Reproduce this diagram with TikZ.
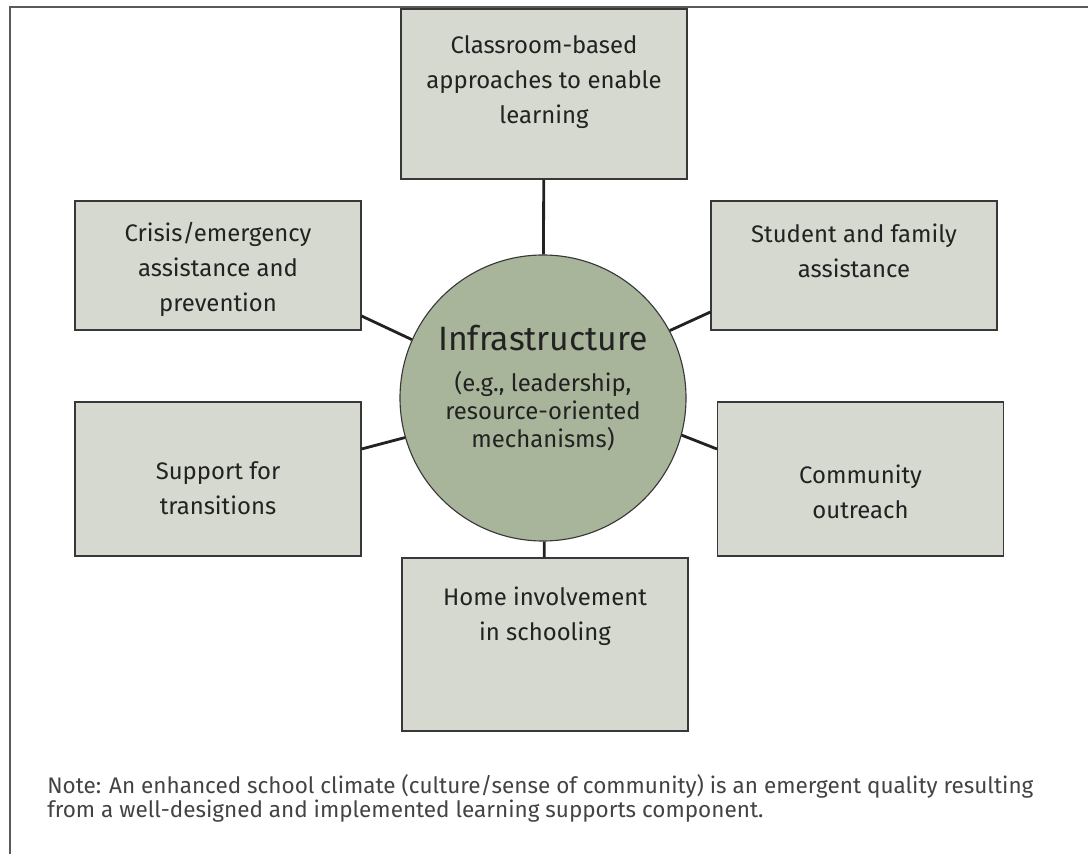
\documentclass[tikz,border=0pt]{standalone}
\usepackage{fontspec}
\setmainfont{Fira Sans}
\usepackage{tikz}
\usetikzlibrary{positioning}
\definecolor{boxfill}{HTML}{D6D9CF}
\definecolor{hubfill}{HTML}{A9B59B}
\definecolor{ink}{HTML}{222222}
\definecolor{framegray}{HTML}{5A5A5A}
\newcommand{\boxfont}{\fontsize{17}{25}\selectfont}
\newcommand{\hubfont}{\fontsize{17}{20}\selectfont}
\newcommand{\hubtitle}{\fontsize{24}{28}\selectfont}

\begin{document}
\begin{tikzpicture}[
    area/.style={draw=ink!90, line width=0.8pt, fill=boxfill,
      minimum width=7.15cm, inner sep=0pt},
    areatext/.style={text=ink, align=center, font=\boxfont},
    hub/.style={circle, draw=ink!90, line width=0.8pt, fill=hubfill,
      minimum size=7.15cm, inner sep=0pt},
    spoke/.style={ink, line width=2pt}
  ]
    \useasboundingbox (0,0) rectangle (27.2,21.325);
    \draw [framegray, line width=1.4pt] (0.25,-1) -- (0.25,21.15) -- (28,21.15);

    \node [hub] (hub) at (13.575,11.375) {};
    \node [text=ink, align=center, font=\hubfont] (hub-t) at ([yshift=0.25cm]hub)
      {{\hubtitle Infrastructure}\\[9.5pt]
       (e.g., leadership,\\ resource-oriented\\ mechanisms)};

    \node [area, minimum height=4.25cm] (class) at (13.6,18.975) {};
    \node [area, minimum height=3.225cm] (crisis) at (5.45,14.6875) {};
    \node [area, minimum height=3.225cm] (student) at (21.35,14.6875) {};
    \node [area, minimum height=3.85cm] (support) at (5.45,9.35) {};
    \node [area, minimum height=3.85cm] (community) at (21.5125,9.35) {};
    \node [area, minimum height=4.325cm] (home) at (13.625,5.2125) {};

    \node [areatext] (class-t) at ([yshift=0.3cm]class)
      {Classroom-based\\ approaches to enable\\ learning};
    \node [areatext] (crisis-t) at ([yshift=-0.1cm]crisis)
      {Crisis/emergency\\ assistance and\\ prevention};
    \node [areatext] (student-t) at ([yshift=0.375cm]student)
      {Student and family\\ assistance};
    \node [areatext] (support-t) at ([yshift=-0.225cm]support)
      {Support for\\ transitions};
    \node [areatext] (community-t) at ([yshift=-0.325cm]community)
      {Community\\ outreach};
    \node [areatext] (home-t) at ([yshift=0.7cm]home)
      {Home involvement\\ in schooling};

    \draw [spoke] (class) -- (hub);
    \draw [spoke] (hub) -- (home);
    \draw [spoke] ([yshift=-1.2625cm]crisis.east) -- (hub.156);
    \draw [spoke] ([yshift=-1.1625cm]student.west) -- (hub.28);
    \draw [spoke] ([yshift=0.75cm]support.east) -- (hub.196);
    \draw [spoke] ([yshift=0.75cm]community.west) -- (hub.-15);

    \node [anchor=base west, align=left, text=ink!85, inner sep=0pt,
      font=\fontsize{16}{17}\selectfont] (note) at (1.175,0.9)
      {Note: An enhanced school climate (culture/sense of community) is an emergent quality resulting\\
       from a well-designed and implemented learning supports component.};
  \end{tikzpicture}
\end{document}
